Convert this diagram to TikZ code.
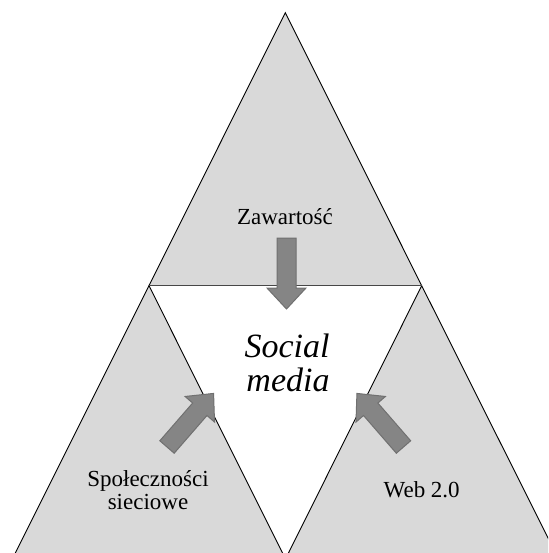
\documentclass[tikz,border=0pt]{standalone}
\usepackage{fontspec}
\setmainfont{Liberation Serif}
\begin{document}
\begin{tikzpicture}[x=1pt,y=-1pt,
  tri/.style={fill=black!15, draw=black, line width=0.9pt, line join=miter},
  blockarrow/.style={fill=black!48, draw=black!56, line width=1pt, line join=miter},
  label/.style={font=\fontsize{23}{27}\selectfont, inner sep=0pt, anchor=base},
  center label/.style={font=\fontsize{34}{38}\selectfont\itshape, inner sep=0pt, anchor=base}]
  \useasboundingbox (0,0) rectangle (548,553);
  \clip (0,0) rectangle (548,553);

  % corner points of the three outer triangles
  \coordinate (topapex) at (285.3,12.7);
  \coordinate (leftapex) at (149,285.7);
  \coordinate (rightapex) at (421.7,285.7);
  \coordinate (leftbase) at (12.3,559);
  \coordinate (midbase) at (285.5,559);
  \coordinate (rightbase) at (558.6,559);

  % outer triangles
  \fill[black!15] (topapex) -- (leftapex) -- (rightapex) -- cycle;
  \draw[black, line width=0.9pt] (leftapex) -- (topapex) -- (rightapex);
  \path[tri] (leftapex) -- (leftbase) -- (midbase) -- cycle;
  \path[tri] (rightapex) -- (midbase) -- (rightbase) -- cycle;
  % top edge of the central triangle
  \draw[black!72, line width=1.2pt] (leftapex) -- (rightapex);

  % block arrows pointing into the centre
  \def\arrowshape{(0,-9.5) -- (50,-9.5) -- (50,-19.5) -- (71,0) -- (50,19.5) -- (50,9.5) -- (0,9.5) -- cycle}
  \coordinate (toptail) at (286.5,238);
  \coordinate (lefttail) at (167,447);
  \coordinate (righttail) at (403.5,447);
  \path[blockarrow, shift={(toptail)}, rotate=-90] \arrowshape;
  \path[blockarrow, shift={(lefttail)}, rotate=49] \arrowshape;
  \path[blockarrow, shift={(righttail)}, rotate=131] \arrowshape;

  % labels
  \node[label] (content) at (285,224) {Zawartość};
  \node[center label] (social) at (287,357) {Social};
  \node[center label] (media) at (288,391) {media};
  \node[label] (comm1) at (148,486) {Społeczności};
  \node[label] (comm2) at (148,509) {sieciowe};
  \node[label] (web) at (421.7,497) {Web 2.0};
\end{tikzpicture}
\end{document}
